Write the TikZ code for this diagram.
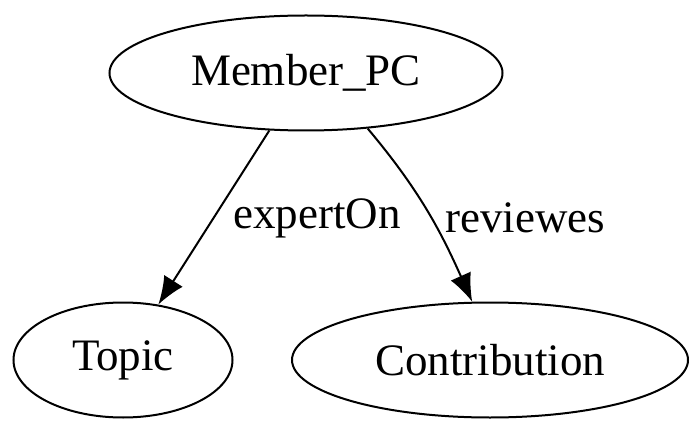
\documentclass[tikz,border=0pt]{standalone}
\usepackage{fontspec}
\setmainfont{Liberation Serif}
\usetikzlibrary{positioning,shapes.geometric,arrows.meta}

\tikzset{
  class/.style={draw, ellipse, line width=2pt, inner sep=0pt, font=\fontsize{45}{54}\selectfont},
  rel/.style={line width=2pt, -{Latex[length=28pt,width=22pt]}},
  rellabel/.style={font=\fontsize{45}{54}\selectfont, inner sep=0pt}
}

\begin{document}
\begin{tikzpicture}[x=1pt,y=-1pt]
\useasboundingbox (0,0) rectangle (700,435);
\node[class, minimum width=393pt, minimum height=115pt] (member) at (306,73) {Member\_PC};
\node[class, minimum width=219pt, minimum height=115pt] (topic) at (123,360) {Topic};
\node[class, minimum width=396pt, minimum height=115pt] (contrib) at (490,360) {Contribution};
% edges
\draw[rel] (member) -- (topic);
\draw[rel] (member.-42) to[out=-50, in=114] (contrib.107);
\node[rellabel] (lexpert) at (317,218) {expertOn};
\node[rellabel] (lreview) at (525,218) {reviewes};
\end{tikzpicture}
\end{document}
